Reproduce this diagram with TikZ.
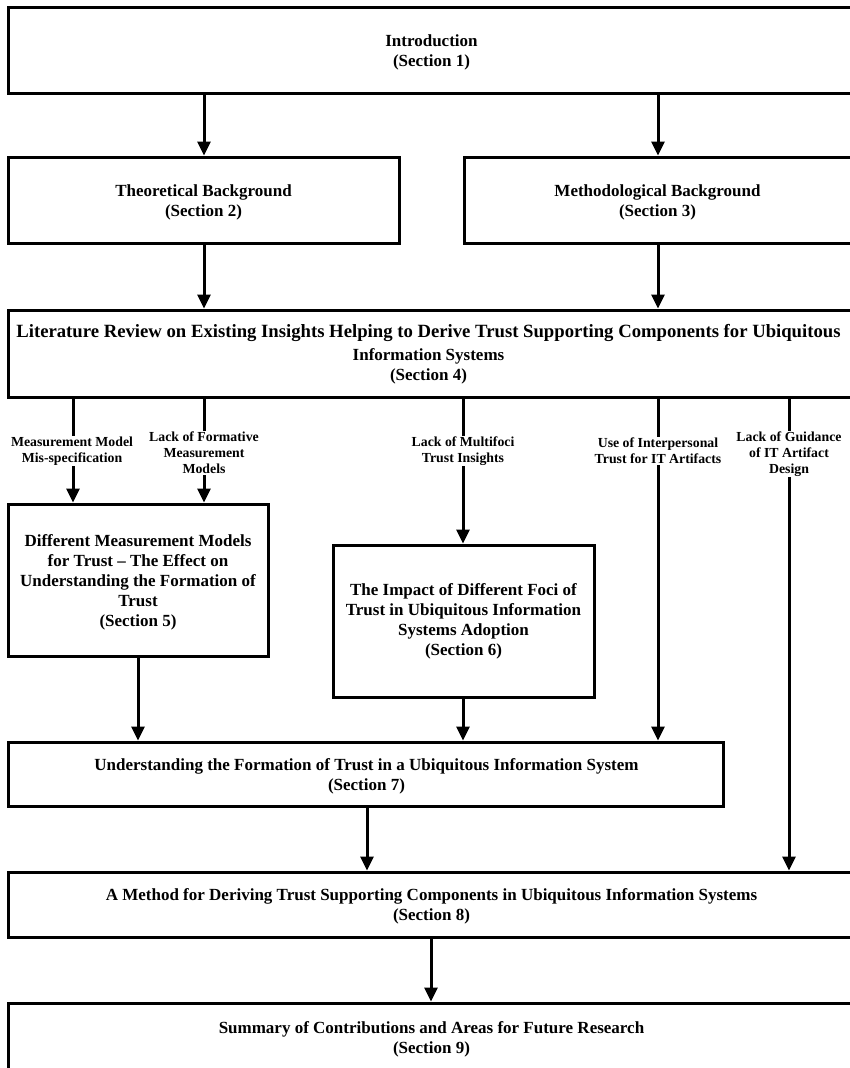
\documentclass[tikz,border=0pt]{standalone}
\usepackage{fontspec}
\setmainfont{Liberation Serif}
\usetikzlibrary{arrows.meta,calc}
\begin{document}
\begin{tikzpicture}[x=1pt,y=-1pt,
  box/.style={draw=black,line width=3pt,rectangle,inner sep=0pt},
  txt/.style={inner sep=1pt,align=center,
    font=\fontsize{17}{20}\selectfont\bfseries},
  lbl/.style={fill=white,inner sep=1pt,align=center,
    font=\fontsize{13.8}{16}\selectfont\bfseries},
  arr/.style={line width=3pt,-{Triangle[length=14pt,width=13pt]}}]
\useasboundingbox (0,0) rectangle (850,1068);
\clip (0,0) rectangle (850,1068);

% box outlines
\node[box,minimum width=847,minimum height=86]  (intro) at (431.5,50) {};
\node[box,minimum width=391,minimum height=86]  (theo)  at (203.5,200) {};
\node[box,minimum width=391,minimum height=86]  (meth)  at (659.5,200) {};
\node[box,minimum width=847,minimum height=87]  (lit)   at (431.5,353.5) {};
\node[box,minimum width=260,minimum height=152] (b5)    at (138,580) {};
\node[box,minimum width=261,minimum height=152] (b6)    at (463.5,621) {};
\node[box,minimum width=715,minimum height=64]  (b7)    at (365.5,774) {};
\node[box,minimum width=847,minimum height=65]  (b8)    at (431.5,904.5) {};
\node[box,minimum width=847,minimum height=70]  (b9)    at (431.5,1038) {};

% box texts
\node[txt] (intro-t) at ($(intro.center)+(0,2)$) {Introduction\\(Section 1)};
\node[txt] (theo-t)  at ($(theo.center)+(0,2)$) {Theoretical Background\\(Section 2)};
\node[txt] (meth-t)  at ($(meth.center)+(-2,2)$) {Methodological Background\\(Section 3)};
\node[txt] (lit-t)   at ($(lit.center)+(-3,0.5)$)
  {{\fontsize{18.7}{20}\selectfont Literature Review on Existing Insights Helping to Derive Trust Supporting Components for Ubiquitous}\\[3pt]Information Systems\\(Section 4)};
\node[txt] (b5-t) at ($(b5.center)+(0,2.5)$)
  {Different Measurement Models\\for Trust -- The Effect on\\Understanding the Formation of\\Trust\\(Section 5)};
\node[txt] (b6-t) at ($(b6.center)+(0,0.5)$)
  {The Impact of Different Foci of\\Trust in Ubiquitous Information\\Systems Adoption\\(Section 6)};
\node[txt] (b7-t) at ($(b7.center)+(1,2.5)$)
  {Understanding the Formation of Trust in a Ubiquitous Information System\\(Section 7)};
\node[txt] (b8-t) at ($(b8.center)+(0,1.5)$)
  {A Method for Deriving Trust Supporting Components in Ubiquitous Information Systems\\(Section 8)};
\node[txt] (b9-t) at ($(b9.center)+(0,1)$)
  {Summary of Contributions and Areas for Future Research\\(Section 9)};

% column positions of the connectors
\coordinate (c1) at (73,0);
\coordinate (c2) at (204,0);
\coordinate (c3) at (463,0);
\coordinate (c4) at (658,0);
\coordinate (c5) at (789,0);
\coordinate (c6) at (138,0);
\coordinate (c7) at (367,0);
\coordinate (c8) at (431,0);

% connectors
\draw[arr] (intro.south -| c2) -- (theo.north -| c2);
\draw[arr] (intro.south -| c4) -- (meth.north -| c4);
\draw[arr] (theo.south -| c2) -- (lit.north -| c2);
\draw[arr] (meth.south -| c4) -- (lit.north -| c4);
\draw[arr] (lit.south -| c1) -- (b5.north -| c1);
\draw[arr] (lit.south -| c2) -- (b5.north -| c2);
\draw[arr] (lit.south -| c3) -- (b6.north -| c3);
\draw[arr] (lit.south -| c4) -- (b7.north -| c4);
\draw[arr] (lit.south -| c5) -- (b8.north -| c5);
\draw[arr] (b5.south -| c6) -- (b7.north -| c6);
\draw[arr] (b6.south -| c3) -- (b7.north -| c3);
\draw[arr] (b7.south -| c7) -- (b8.north -| c7);
\draw[arr] (b8.south -| c8) -- (b9.north -| c8);

% connector labels
\node[lbl] (l1) at (72,451) {Measurement Model\\Mis-specification};
\node[lbl] (l2) at (204,453) {Lack of Formative\\Measurement\\Models};
\node[lbl] (l3) at (463,451) {Lack of Multifoci\\Trust Insights};
\node[lbl] (l4) at (658,451) {Use of Interpersonal\\Trust for IT Artifacts};
\node[lbl] (l5) at (789,454) {Lack of Guidance\\of IT Artifact\\Design};
\end{tikzpicture}
\end{document}
